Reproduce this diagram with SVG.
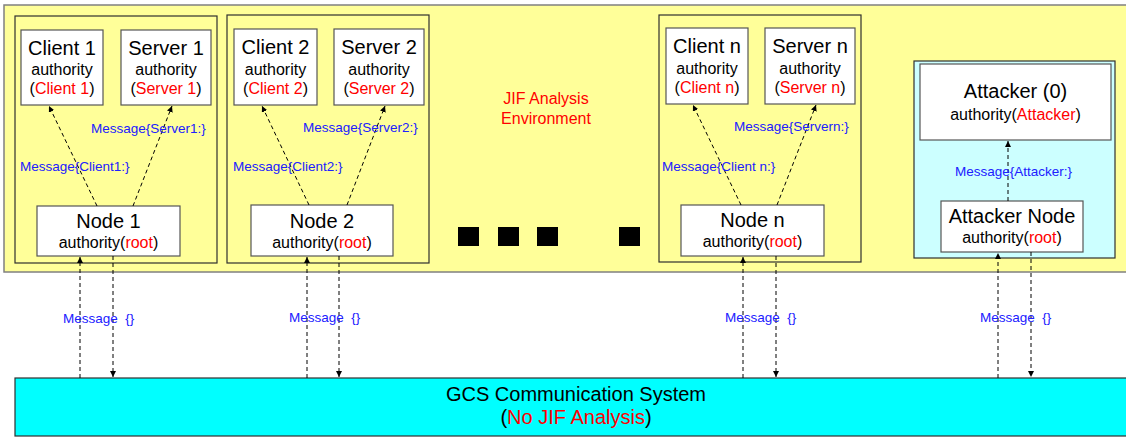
<svg xmlns="http://www.w3.org/2000/svg" width="1126" height="440" viewBox="0 0 1126 440">
  <defs>
    <marker id="arrow" viewBox="0 0 8 8" refX="8" refY="4" markerWidth="6" markerHeight="6" orient="auto" markerUnits="userSpaceOnUse">
      <path d="M0,0 L8,4 L0,8 Z" fill="#000"/>
    </marker>
    <style>
      text { font-family: "Liberation Sans", Arial, sans-serif; }
      .env { fill: #FFFF99; stroke: #808080; stroke-width: 1.5; }
      .grp { fill: #FFFF99; stroke: #303030; stroke-width: 1.2; }
      .atk { fill: #CCFFFF; stroke: #303030; stroke-width: 1.2; }
      .box { fill: #FFFFFF; stroke: #555555; stroke-width: 1.2; }
      .gcs { fill: #00FFFF; stroke: #303030; stroke-width: 1.2; }
      .title { font-size: 20px; fill: #000; text-anchor: middle; }
      .sub { font-size: 16px; fill: #000; text-anchor: middle; }
      .red { fill: #FF0000; }
      .msg { font-size: 13.5px; fill: #2020FF; }
      .flow { stroke: #000; stroke-width: 1; stroke-dasharray: 4 3; fill: none; }
      .dot { fill: #000; }
    </style>
  </defs>

  <!-- analysis environment -->
  <rect class="env" x="4" y="5" width="1130" height="267"/>
  <text x="546" y="104" font-size="16" fill="#FF0000" text-anchor="middle">JIF Analysis</text>
  <text x="546" y="124" font-size="16" fill="#FF0000" text-anchor="middle">Environment</text>

  <!-- ellipsis blocks -->
  <g id="ellipsis">
    <rect class="dot" x="458" y="227" width="21" height="19"/>
    <rect class="dot" x="498" y="227" width="21" height="19"/>
    <rect class="dot" x="537" y="227" width="21" height="19"/>
    <rect class="dot" x="619" y="227" width="21" height="19"/>
  </g>

  <!-- group 1 -->
  <g id="group1">
    <rect class="grp" x="15" y="16" width="202" height="247"/>
  </g>
  <g id="client1">
    <rect class="box" x="21" y="30" width="82" height="75"/>
    <text class="title" x="62" y="55">Client 1</text>
    <text class="sub" x="62" y="75">authority</text>
    <text class="sub" x="62" y="94">(<tspan class="red">Client 1</tspan>)</text>
  </g>
  <g id="server1">
    <rect class="box" x="121" y="30" width="90" height="75"/>
    <text class="title" x="166" y="55">Server 1</text>
    <text class="sub" x="166" y="75">authority</text>
    <text class="sub" x="166" y="94">(<tspan class="red">Server 1</tspan>)</text>
  </g>
  <g id="node1">
    <rect class="box" x="37" y="206" width="143" height="50"/>
    <text class="title" x="108.5" y="228">Node 1</text>
    <text class="sub" x="108.5" y="248">authority(<tspan class="red">root</tspan>)</text>
  </g>

  <!-- group 2 -->
  <g id="group2">
    <rect class="grp" x="227" y="15" width="202" height="248"/>
  </g>
  <g id="client2">
    <rect class="box" x="234" y="29" width="83" height="76"/>
    <text class="title" x="275.5" y="54">Client 2</text>
    <text class="sub" x="275.5" y="75">authority</text>
    <text class="sub" x="275.5" y="94">(<tspan class="red">Client 2</tspan>)</text>
  </g>
  <g id="server2">
    <rect class="box" x="334" y="29" width="90" height="76"/>
    <text class="title" x="379" y="54">Server 2</text>
    <text class="sub" x="379" y="75">authority</text>
    <text class="sub" x="379" y="94">(<tspan class="red">Server 2</tspan>)</text>
  </g>
  <g id="node2">
    <rect class="box" x="251" y="205" width="142" height="51"/>
    <text class="title" x="322" y="228">Node 2</text>
    <text class="sub" x="322" y="248">authority(<tspan class="red">root</tspan>)</text>
  </g>

  <!-- group n -->
  <g id="groupn">
    <rect class="grp" x="659" y="15" width="202" height="247"/>
  </g>
  <g id="clientn">
    <rect class="box" x="666" y="28" width="82" height="76"/>
    <text class="title" x="707" y="53">Client n</text>
    <text class="sub" x="707" y="74">authority</text>
    <text class="sub" x="707" y="93">(<tspan class="red">Client n</tspan>)</text>
  </g>
  <g id="servern">
    <rect class="box" x="765" y="28" width="90" height="76"/>
    <text class="title" x="810" y="53">Server n</text>
    <text class="sub" x="810" y="74">authority</text>
    <text class="sub" x="810" y="93">(<tspan class="red">Server n</tspan>)</text>
  </g>
  <g id="noden">
    <rect class="box" x="681" y="205" width="143" height="51"/>
    <text class="title" x="752.5" y="227">Node n</text>
    <text class="sub" x="752.5" y="247">authority(<tspan class="red">root</tspan>)</text>
  </g>

  <!-- attacker group -->
  <g id="attackerGroup">
    <rect class="atk" x="914" y="61" width="201" height="197"/>
  </g>
  <g id="attacker">
    <rect class="box" x="920" y="64" width="191" height="76"/>
    <text class="title" x="1015.5" y="98">Attacker (0)</text>
    <text class="sub" x="1015.5" y="120">authority(<tspan class="red">Attacker</tspan>)</text>
  </g>
  <g id="attackerNode">
    <rect class="box" x="941" y="201" width="142" height="51"/>
    <text class="title" x="1012" y="223">Attacker Node</text>
    <text class="sub" x="1012" y="243">authority(<tspan class="red">root</tspan>)</text>
  </g>

  <!-- communication system -->
  <g id="gcs">
    <rect class="gcs" x="15" y="378" width="1120" height="58"/>
    <text class="title" x="576" y="401">GCS Communication System</text>
    <text class="title" x="576" y="424">(<tspan class="red">No JIF Analysis</tspan>)</text>
  </g>

  <!-- connectors -->
  <g id="connectors">
    <line class="flow" x1="97" y1="206" x2="49" y2="106" marker-end="url(#arrow)"/>
    <line class="flow" x1="133" y1="206" x2="172" y2="106" marker-end="url(#arrow)"/>
    <line class="flow" x1="309" y1="205" x2="262" y2="106" marker-end="url(#arrow)"/>
    <line class="flow" x1="347" y1="205" x2="385" y2="106" marker-end="url(#arrow)"/>
    <line class="flow" x1="741" y1="205" x2="693" y2="105" marker-end="url(#arrow)"/>
    <line class="flow" x1="777" y1="205" x2="816" y2="105" marker-end="url(#arrow)"/>
    <line class="flow" x1="1008" y1="201" x2="1008" y2="141" marker-end="url(#arrow)"/>

    <line class="flow" x1="80" y1="378" x2="80" y2="257" marker-end="url(#arrow)"/>
    <line class="flow" x1="113" y1="256" x2="113" y2="377" marker-end="url(#arrow)"/>
    <line class="flow" x1="307" y1="378" x2="307" y2="257" marker-end="url(#arrow)"/>
    <line class="flow" x1="339" y1="256" x2="339" y2="377" marker-end="url(#arrow)"/>
    <line class="flow" x1="743" y1="378" x2="743" y2="257" marker-end="url(#arrow)"/>
    <line class="flow" x1="776" y1="256" x2="776" y2="377" marker-end="url(#arrow)"/>
    <line class="flow" x1="998" y1="378" x2="998" y2="253" marker-end="url(#arrow)"/>
    <line class="flow" x1="1031" y1="252" x2="1031" y2="377" marker-end="url(#arrow)"/>

    <text class="msg" x="20" y="171">Message{Client1:}</text>
    <text class="msg" x="91" y="133">Message{Server1:}</text>
    <text class="msg" x="233" y="171">Message{Client2:}</text>
    <text class="msg" x="303" y="132">Message{Server2:}</text>
    <text class="msg" x="662" y="171">Message{Client n:}</text>
    <text class="msg" x="734" y="131">Message{Servern:}</text>
    <text class="msg" x="955" y="176">Message{Attacker:}</text>

    <text class="msg" x="63" y="323" xml:space="preserve">Message  {}</text>
    <text class="msg" x="289" y="322" xml:space="preserve">Message  {}</text>
    <text class="msg" x="725" y="322" xml:space="preserve">Message  {}</text>
    <text class="msg" x="980" y="322" xml:space="preserve">Message  {}</text>
  </g>
</svg>
